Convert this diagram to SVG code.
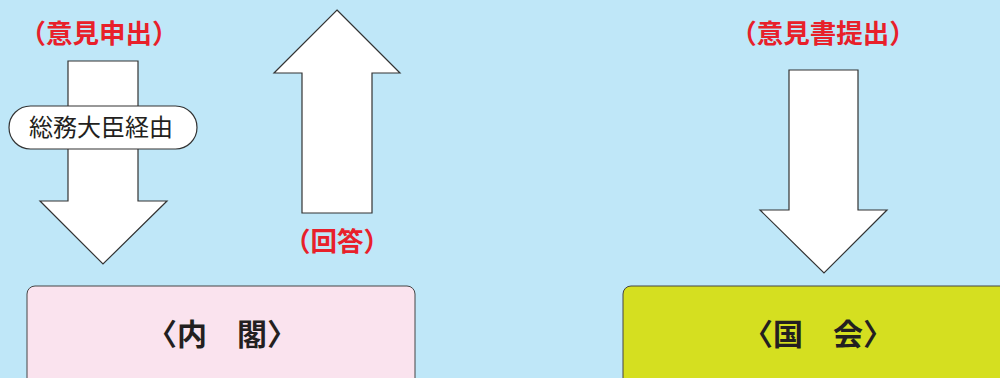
<svg xmlns="http://www.w3.org/2000/svg" width="1000" height="378" viewBox="0 0 1000 378">
<style>
.arrow{fill:#ffffff;stroke:#333333;stroke-width:1.2;stroke-linejoin:miter}
.lbl{font-family:"Noto Sans CJK JP",sans-serif;font-weight:bold;font-size:26.5px;fill:#e8202a;text-anchor:middle}
.box{stroke:#444444;stroke-width:1}
.ttl{font-family:"Noto Sans CJK JP",sans-serif;font-weight:bold;font-size:30px;fill:#231f20;text-anchor:middle}
.pill{font-family:"Noto Sans CJK JP",sans-serif;font-size:24px;fill:#231f20;text-anchor:middle}
</style>
<rect x="0" y="0" width="1000" height="378" fill="#bfe7f8"/>
<g id="connectors">
<g id="arrow-opinion">
<polygon class="arrow" points="68,61 138,61 138,201 167,201 103,264 40,201 68,201"/>
</g>
<g id="arrow-answer">
<polygon class="arrow" points="337,10 400,73 372,73 372,213 302,213 302,73 274,73"/>
</g>
<g id="arrow-submit">
<polygon class="arrow" points="789,70 858,70 858,210 887,210 824,273 760,210 789,210"/>
</g>
</g>
<g id="pill-node">
<rect x="9" y="106" width="188" height="43" rx="21.5" ry="21.5" fill="#ffffff" stroke="#333333" stroke-width="1.2"/>
<text class="pill" x="101" y="136">総務大臣経由</text>
</g>
<g id="label-opinion"><text class="lbl" x="99" y="43">（意見申出）</text></g>
<g id="label-answer"><text class="lbl" x="337" y="251">（回答）</text></g>
<g id="label-submit"><text class="lbl" x="823" y="43">（意見書提出）</text></g>
<g id="node-cabinet">
<rect class="box" x="27" y="286" width="388" height="110" rx="8" ry="8" fill="#fae3ee"/>
<text class="ttl" x="222" y="345">〈内　閣〉</text>
</g>
<g id="node-diet">
<rect class="box" x="623" y="286" width="400" height="110" rx="8" ry="8" fill="#d5df20"/>
<text class="ttl" x="818" y="345">〈国　会〉</text>
</g>
</svg>
